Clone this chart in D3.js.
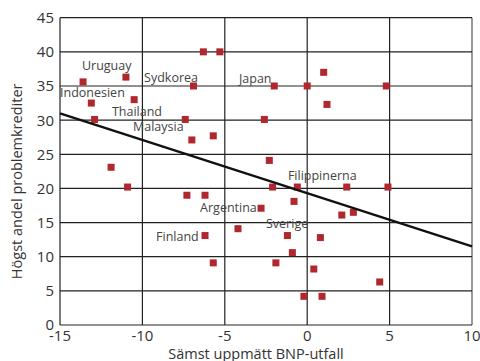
<!DOCTYPE html>
<html>
<head>
<meta charset="utf-8">
<style>
  body { margin: 0; background: #fff; }
  text { font-family: "Open Sans", sans-serif; fill: #333; }
  .grid line { stroke: #222; stroke-width: 1.2; }
  .tick-label { font-size: 15px; }
  .country { font-size: 12.5px; fill: #444; }
  .axis-title { font-size: 14.5px; }
</style>
</head>
<body>
<script src="https://d3js.org/d3.v7.min.js"></script>
<script>
  // worst measured GDP outcome (x) vs highest share of problem loans (y)
  const gdpWorst = [-13.6, -11.0, -13.1, -10.5, -12.9, -6.3, -5.3, -6.9, -7.4, -7.0, -5.7, -11.9,
    -2.0, 0.0, 1.0, 4.8, 1.2, -2.6, -2.3,
    -10.9, -7.3, -6.2, -6.2, -5.7, -4.2,
    -2.1, -0.6, 2.4, 4.9, -2.8, -0.8, 2.1, 2.8, -1.2, 0.8, -0.9, -1.9, 0.4, 4.4, -0.2, 0.9];
  const problemLoans = [35.6, 36.3, 32.5, 33.0, 30.1, 40.0, 40.0, 35.0, 30.1, 27.1, 27.7, 23.1,
    35.0, 35.0, 37.0, 35.0, 32.3, 30.1, 24.1,
    20.2, 19.0, 19.0, 13.1, 9.1, 14.1,
    20.2, 20.2, 20.2, 20.2, 17.1, 18.1, 16.1, 16.5, 13.1, 12.8, 10.6, 9.1, 8.2, 6.3, 4.2, 4.2];

  // fitted trend line end points
  const trendX = [-15, 10];
  const trendY = [31.0, 11.5];

  // country labels, placed in data units
  const labelNames = ['Uruguay', 'Sydkorea', 'Indonesien', 'Thailand', 'Malaysia', 'Japan',
    'Filippinerna', 'Argentina', 'Finland', 'Sverige'];
  const labelX = [-13.67, -9.9, -15.0, -11.85, -10.57, -4.14, -1.17, -6.5, -9.17, -2.5];
  const labelY = [37.35, 35.6, 33.4, 30.6, 28.4, 35.45, 21.2, 16.55, 12.3, 14.2];

  const xTicks = [-15, -10, -5, 0, 5, 10];
  const yTicks = [0, 5, 10, 15, 20, 25, 30, 35, 40, 45];

  const W = 480, H = 361;
  const margin = { top: 17.7, right: 8, bottom: 36, left: 60 };

  const svg = d3.select('body').append('svg')
    .attr('width', W)
    .attr('height', H);

  const x = d3.scaleLinear().domain([-15, 10]).range([margin.left, W - margin.right]);
  const y = d3.scaleLinear().domain([0, 45]).range([H - margin.bottom, margin.top]);

  // grid
  const grid = svg.append('g').attr('class', 'grid');
  grid.selectAll('.v').data(xTicks).join('line')
    .attr('x1', d => x(d)).attr('x2', d => x(d))
    .attr('y1', y(0)).attr('y2', y(45))
    .style('stroke', (d, i) => i === xTicks.length - 1 ? '#999' : null)
    .style('stroke-width', (d, i) => i === xTicks.length - 1 ? 2 : null);
  grid.selectAll('.h').data(yTicks).join('line')
    .attr('x1', x(-15)).attr('x2', x(10))
    .attr('y1', d => y(d)).attr('y2', d => y(d));

  // tick labels
  svg.append('g').selectAll('text').data(yTicks).join('text')
    .attr('class', 'tick-label')
    .attr('x', margin.left - 6)
    .attr('y', d => y(d))
    .attr('dy', '0.36em')
    .attr('text-anchor', 'end')
    .text(d => String(d));

  svg.append('g').selectAll('text').data(xTicks).join('text')
    .attr('class', 'tick-label')
    .attr('x', d => x(d))
    .attr('y', y(0) + 16)
    .attr('text-anchor', 'middle')
    .text(d => String(d));

  // points
  const pts = gdpWorst.map((v, i) => ({ x: v, y: problemLoans[i] }));
  svg.append('g').selectAll('rect').data(pts).join('rect')
    .attr('x', d => x(d.x) - 3.5)
    .attr('y', d => y(d.y) - 3.5)
    .attr('width', 7)
    .attr('height', 7)
    .attr('fill', '#b0272e');

  // trend line
  svg.append('line')
    .attr('x1', x(trendX[0])).attr('y1', y(trendY[0]))
    .attr('x2', x(trendX[1])).attr('y2', y(trendY[1]))
    .attr('stroke', '#111')
    .attr('stroke-width', 2.4);

  // country labels
  svg.append('g').selectAll('text').data(labelNames).join('text')
    .attr('class', 'country')
    .attr('x', (d, i) => x(labelX[i]))
    .attr('y', (d, i) => y(labelY[i]))
    .text(d => d);

  // axis titles
  svg.append('text')
    .attr('class', 'axis-title')
    .attr('x', 256)
    .attr('y', H - 2)
    .attr('text-anchor', 'middle')
    .text('Sämst uppmätt BNP-utfall');

  svg.append('text')
    .attr('class', 'axis-title')
    .attr('transform', `translate(22,${(y(0) + y(45)) / 2 + 10}) rotate(-90)`)
    .attr('text-anchor', 'middle')
    .text('Högst andel problemkrediter');
</script>
</body>
</html>
